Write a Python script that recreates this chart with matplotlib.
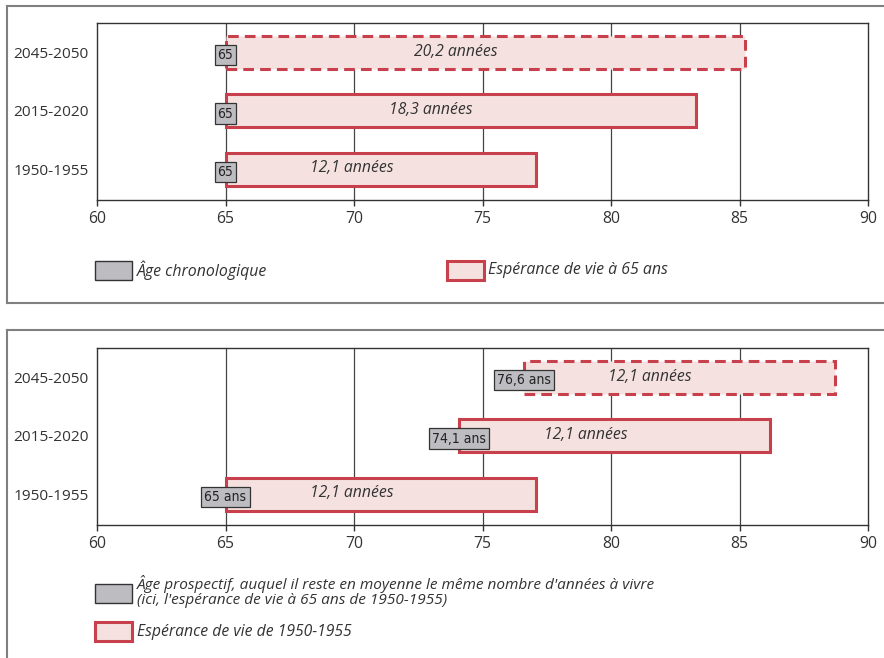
import matplotlib
matplotlib.use("Agg")
import matplotlib.pyplot as plt
from matplotlib.patches import Rectangle
from matplotlib.lines import Line2D

plt.rcParams['font.family'] = ['Open Sans', 'DejaVu Sans']

periods = ["1950-1955", "2015-2020", "2045-2050"]
# Top panel: chronological age and life expectancy at 65
top_start = [65, 65, 65]
top_length = [12.1, 18.3, 20.2]
top_box_labels = ["65", "65", "65"]
top_bar_labels = ["12,1 années", "18,3 années", "20,2 années"]
# Bottom panel: prospective age and life expectancy of 1950-1955
bot_start = [65, 74.1, 76.6]
bot_length = [12.1, 12.1, 12.1]
bot_box_labels = ["65 ans", "74,1 ans", "76,6 ans"]
bot_bar_labels = ["12,1 années", "12,1 années", "12,1 années"]
dashed = [False, False, True]
xticks = [60, 65, 70, 75, 80, 85, 90]

RED = "#c8404c"
PINK = "#f5e2e0"
GRAY = "#bdbdc1"
TXT = "#333333"

W, H = 884, 658
fig = plt.figure(figsize=(W / 100, H / 100), dpi=100)


def fx(px):
    return px / W


def fy(py):
    return 1 - py / H


def panel(ax, starts, lengths, box_labels, bar_labels):
    ax.set_xlim(60, 90)
    ax.set_ylim(-0.53, 2.5)
    for x in xticks[1:-1]:
        ax.axvline(x, color="#444444", lw=0.9, zorder=0)
    for i, (s, l) in enumerate(zip(starts, lengths)):
        ax.barh(i, l, left=s, height=0.565, color=PINK,
                edgecolor=RED, lw=2.2,
                linestyle=(0, (3.5, 2)) if dashed[i] else "solid", zorder=2)
        ax.text(s + l / 2 - 1.15, i + 0.01, bar_labels[i], ha="center", va="center",
                fontsize=11.3, style="italic", color=TXT, zorder=4)
        ax.text(s, i - 0.05, box_labels[i], ha="center", va="center",
                fontsize=10, color="#222222", zorder=5,
                family=['DejaVu Sans'], fontstretch="condensed",
                bbox=dict(boxstyle="square,pad=0.22", fc=GRAY, ec="#333333", lw=0.9))
    ax.set_yticks(range(len(periods)))
    ax.set_yticklabels(periods, fontsize=11.1, color=TXT)
    ax.tick_params(axis="y", length=0, pad=6)
    ax.set_xticks(xticks)
    ax.set_xticklabels([str(t) for t in xticks], fontsize=11.3, color=TXT)
    ax.tick_params(axis="x", length=4, width=1, color="#333333", pad=4)
    for sp in ax.spines.values():
        sp.set_color("#333333")
        sp.set_linewidth(1)


ax1 = fig.add_axes([fx(97), fy(200), fx(868 - 97), (200 - 23) / H])
panel(ax1, top_start, top_length, top_box_labels, top_bar_labels)
ax2 = fig.add_axes([fx(97), fy(525), fx(868 - 97), (525 - 348) / H])
panel(ax2, bot_start, bot_length, bot_box_labels, bot_bar_labels)

# Outer frames
fc = "#808080"
for (x0, y0, x1, y1) in [(7, 6, 884, 6), (7, 6, 7, 303), (7, 303, 884, 303),
                         (7, 330, 884, 330), (7, 330, 7, 658)]:
    fig.add_artist(Line2D([fx(x0), fx(x1)], [fy(y0), fy(y1)], color=fc, lw=1.5))


def legbox(x0, y0, x1, y1, fcol, ecol, lw):
    fig.add_artist(Rectangle((fx(x0), fy(y1)), fx(x1 - x0), (y1 - y0) / H,
                             facecolor=fcol, edgecolor=ecol, lw=lw))


legbox(95, 261, 132, 280, GRAY, "#333333", 1)
fig.text(fx(137), fy(270.5), "Âge chronologique", fontsize=11.4, style="italic",
         color=TXT, va="center")
legbox(447, 261, 484, 280, PINK, RED, 2.2)
fig.text(fx(488), fy(270.5), "Espérance de vie à 65 ans", fontsize=11.4, style="italic",
         color=TXT, va="center")

legbox(95, 584, 132, 603, GRAY, "#333333", 1)
fig.text(fx(137), fy(591.5),
         "Âge prospectif, auquel il reste en moyenne le même nombre d'années à vivre\n"
         "(ici, l'espérance de vie à 65 ans de 1950-1955)",
         fontsize=11.1, style="italic", color=TXT, va="center", linespacing=0.92)
legbox(95, 622, 132, 641, PINK, RED, 2.2)
fig.text(fx(137), fy(632), "Espérance de vie de 1950-1955", fontsize=11.3, style="italic",
         color=TXT, va="center")

fig.savefig("out.png", dpi=100)
